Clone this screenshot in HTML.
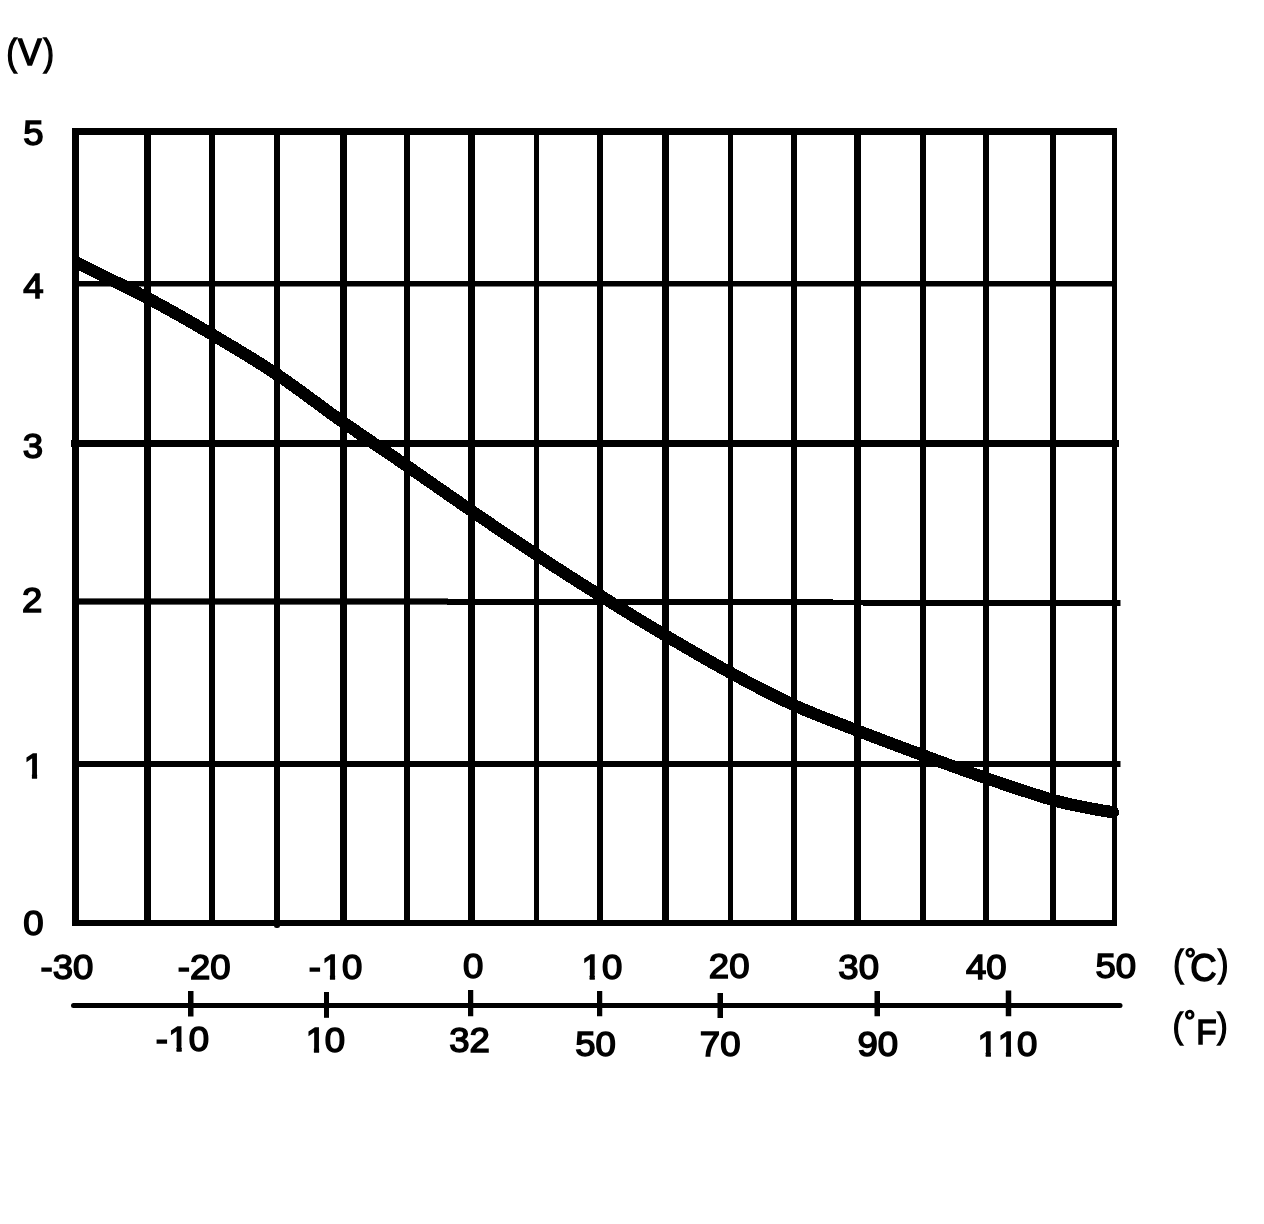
<!DOCTYPE html>
<html lang="en">
<head>
<meta charset="utf-8">
<title>Sensor voltage vs temperature</title>
<style>
html,body{margin:0;padding:0;background:#fff;}
body{width:1264px;height:1224px;overflow:hidden;}
svg{display:block;}
text{font-family:"Liberation Sans",Arial,Helvetica,sans-serif;fill:#000;stroke:#000;stroke-width:1.5px;stroke-linejoin:miter;}
.g rect{fill:#000;}
</style>
</head>
<body>
<svg width="1264" height="1224" viewBox="0 0 1264 1224">
<defs><clipPath id="one"><path d="M-3 -32H20V-4.94H12.63V3H7.76V-4.94H-3Z"/></clipPath></defs>
<rect width="1264" height="1224" fill="#fff"/>
<g class="g">
<rect x="72" y="128" width="7" height="798"/>
<rect x="144" y="128" width="7" height="798"/>
<rect x="209" y="128" width="6" height="798"/>
<rect x="274" y="128" width="6" height="798"/>
<rect x="340" y="128" width="7" height="798"/>
<rect x="404" y="128" width="6" height="798"/>
<rect x="468" y="128" width="7" height="798"/>
<rect x="534" y="128" width="5" height="798"/>
<rect x="597" y="128" width="6" height="798"/>
<rect x="662" y="128" width="7" height="798"/>
<rect x="728" y="128" width="5" height="798"/>
<rect x="791" y="128" width="6" height="798"/>
<rect x="854" y="128" width="7" height="798"/>
<rect x="920" y="128" width="6" height="798"/>
<rect x="983" y="128" width="6" height="798"/>
<rect x="1050" y="128" width="6" height="798"/>
<rect x="1112" y="128" width="5" height="798"/>
<rect x="72" y="128" width="1044" height="7"/>
<rect x="72" y="281" width="1045" height="5.5"/>
<rect x="71" y="440" width="1048" height="7"/>
<rect x="72" y="598.4" width="376" height="6.2"/>
<rect x="447" y="599" width="386" height="6"/>
<rect x="832" y="600" width="32" height="5"/>
<rect x="863" y="600" width="257.5" height="6"/>
<rect x="72" y="761" width="1048.5" height="6"/>
<rect x="72" y="920" width="1045" height="6"/>
<rect x="188" y="991" width="5.5" height="25.5"/>
<rect x="324" y="992" width="5" height="25.8"/>
<rect x="468" y="990" width="5.25" height="26.25"/>
<rect x="597" y="991" width="5.25" height="25.25"/>
<rect x="717.5" y="993" width="5.5" height="25"/>
<rect x="874.5" y="991" width="5.5" height="25.25"/>
<rect x="1005.75" y="990.5" width="5.5" height="25.75"/>
<rect x="274" y="924" width="6" height="4" rx="2.5"/>
</g>
<path d="M76.00 262.50 C87.92 268.42 124.83 286.02 147.50 298.00 C170.17 309.98 190.42 321.65 212.00 334.40 C233.58 347.15 255.08 359.82 277.00 374.50 C298.92 389.18 321.83 407.25 343.50 422.50 C365.17 437.75 385.62 451.25 407.00 466.00 C428.38 480.75 450.17 496.20 471.75 511.00 C493.33 525.80 515.12 540.72 536.50 554.80 C557.88 568.88 578.58 582.10 600.00 595.50 C621.42 608.90 643.25 622.32 665.00 635.20 C686.75 648.08 708.96 661.12 730.50 672.80 C752.04 684.48 773.08 695.67 794.25 705.30 C815.42 714.93 836.04 722.27 857.50 730.60 C878.96 738.93 901.54 747.37 923.00 755.30 C944.46 763.23 964.58 770.75 986.25 778.20 C1007.92 785.65 1035.71 794.98 1053.00 800.00 C1070.29 805.02 1080.00 806.27 1090.00 808.30 C1100.00 810.33 1109.17 811.55 1113.00 812.20" fill="none" stroke="#000" stroke-width="12.2" stroke-linecap="butt" stroke-linejoin="round" shape-rendering="crispEdges"/>
<circle cx="1113" cy="812.2" r="6.1" shape-rendering="crispEdges"/>
<line x1="73.5" y1="1005.5" x2="1120" y2="1005.5" stroke="#000" stroke-width="5" stroke-linecap="round"/>
<g font-size="34.5">
<text transform="translate(23.3 144.9) scale(1.06 1)">5</text>
<text transform="translate(23.3 298) scale(1.06 1)">4</text>
<text transform="translate(22.8 457.9) scale(1.06 1)">3</text>
<text transform="translate(22 612.3) scale(1.06 1)">2</text>
<g transform="translate(23.7 778.4) scale(1.06 1)"><text clip-path="url(#one)">1</text></g>
<text transform="translate(23.3 934.8) scale(1.06 1)">0</text>
<text transform="translate(40.5 978.5) scale(1.06 1)">-30</text>
<text transform="translate(177.8 978.6) scale(1.06 1)">-20</text>
<g><text transform="translate(308.75 979) scale(1.06 1)">-</text><g transform="translate(321.7 979) scale(1.06 1)"><text clip-path="url(#one)">1</text></g><text transform="translate(342 979) scale(1.06 1)">0</text></g>
<text transform="translate(463 977.6) scale(1.06 1)">0</text>
<g><g transform="translate(581.4 979.3) scale(1.06 1)"><text clip-path="url(#one)">1</text></g><text transform="translate(601.9 979.3) scale(1.06 1)">0</text></g>
<text transform="translate(708.8 977.6) scale(1.06 1)">20</text>
<text transform="translate(838.3 979) scale(1.06 1)">30</text>
<text transform="translate(966 978.5) scale(1.06 1)">40</text>
<text transform="translate(1095.5 977.6) scale(1.06 1)">50</text>
<g><text transform="translate(155.85 1051.1) scale(1.06 1)">-</text><g transform="translate(168.3 1051.1) scale(1.06 1)"><text clip-path="url(#one)">1</text></g><text transform="translate(188.7 1051.1) scale(1.06 1)">0</text></g>
<g><g transform="translate(305.7 1051.5) scale(1.06 1)"><text clip-path="url(#one)">1</text></g><text transform="translate(324.8 1051.5) scale(1.06 1)">0</text></g>
<text transform="translate(449.2 1051.6) scale(1.06 1)">32</text>
<text transform="translate(575.2 1055.6) scale(1.06 1)">50</text>
<text transform="translate(699.8 1055.6) scale(1.06 1)">70</text>
<text transform="translate(857.5 1055.6) scale(1.06 1)">90</text>
<g><g transform="translate(977.5 1055.7) scale(1.06 1)"><text clip-path="url(#one)">1</text></g><g transform="translate(997.7 1055.7) scale(1.06 1)"><text clip-path="url(#one)">1</text></g><text transform="translate(1016.9 1055.7) scale(1.06 1)">0</text></g>
</g>
<g><text transform="translate(6.45 65.3) scale(0.86 1)" font-size="36.5">(</text><text transform="translate(18.04 65.25) scale(0.957 1)" font-size="37">V</text><text transform="translate(43.56 65.3) scale(0.86 1)" font-size="36.5">)</text></g>
<g><text transform="translate(1173.31 975.8) scale(0.85 1)" font-size="36.5">(</text><text transform="translate(1184.53 968.7) scale(1 1)" font-size="28.6">°</text><text transform="translate(1190.26 981.3) scale(0.96 1)" font-size="38">C</text><text transform="translate(1218.05 975.8) scale(0.85 1)" font-size="36.5">)</text></g>
<g><text transform="translate(1172.74 1037.6) scale(0.87 1)" font-size="35.4">(</text><text transform="translate(1184.03 1030.5) scale(1 1)" font-size="28.6">°</text><text transform="translate(1196.16 1044.25) scale(0.93 1)" font-size="35.9">F</text><text transform="translate(1217.27 1038.2) scale(0.87 1)" font-size="35.4">)</text></g>
</svg>
</body>
</html>
